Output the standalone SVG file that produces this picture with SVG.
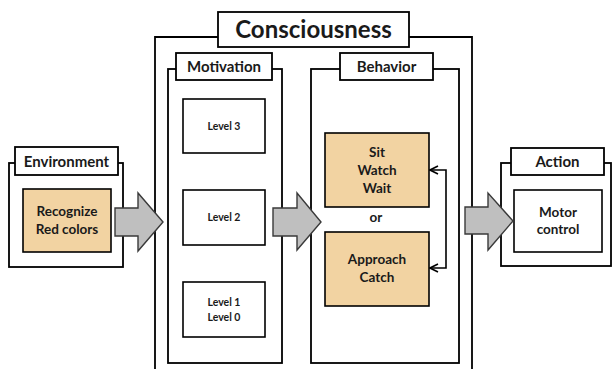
<svg xmlns="http://www.w3.org/2000/svg" width="613" height="369" viewBox="0 0 613 369">
<style>
.panel{fill:#fff;stroke:#000;stroke-width:1.8}
.title{fill:#fff;stroke:#000;stroke-width:1.8}
.box{fill:#fff;stroke:#000;stroke-width:1.6}
.tan{fill:#F2D3A2;stroke:#000;stroke-width:1.6}
.big{fill:#BFBFBF;stroke:#3a3a3a;stroke-width:1.4;stroke-linejoin:miter}
text{font-family:Lato,"Open Sans","Liberation Sans",sans-serif;font-weight:bold;fill:#1a1a1a;text-anchor:middle}
.t22{font-size:24px}
.t15{font-size:15px}
.t13{font-size:13.5px}
.t10{font-size:10.5px}
.fb{fill:none;stroke:#000;stroke-width:1.6}
</style>
<defs>
<marker id="open" viewBox="0 0 10 10" refX="9" refY="5" markerWidth="10" markerHeight="10" markerUnits="userSpaceOnUse" orient="auto-start-reverse">
<path d="M1,1 L9,5 L1,9" fill="none" stroke="#000" stroke-width="1.6"/>
</marker>
</defs>

<g id="consciousness">
<path class="panel" d="M155,380 V37 H472 V380" fill="none"/>
<rect class="title" x="218" y="12" width="191" height="35"/>
<text class="t22" x="313.5" y="38">Consciousness</text>
</g>

<g id="motivation">
<rect class="panel" x="168" y="69" width="114" height="294"/>
<rect class="title" x="176" y="53" width="96" height="27"/>
<text class="t15" x="224" y="72">Motivation</text>
</g>

<g id="level3">
<rect class="box" x="183" y="99" width="82" height="54"/>
<text class="t10" x="224" y="130">Level 3</text>
</g>
<g id="level2">
<rect class="box" x="183" y="190" width="82" height="55"/>
<text class="t10" x="224" y="221">Level 2</text>
</g>
<g id="level10">
<rect class="box" x="183" y="282" width="82" height="55"/>
<text class="t10" x="224" y="305.5">Level 1</text>
<text class="t10" x="224" y="320.5">Level 0</text>
</g>

<g id="behavior">
<rect class="panel" x="311" y="69" width="148" height="294"/>
<rect class="title" x="340" y="53" width="93" height="27"/>
<text class="t15" x="386.5" y="72">Behavior</text>
<text class="t13" x="376" y="221.5">or</text>
</g>

<g id="sit-watch-wait">
<rect class="tan" x="325" y="133" width="104" height="74"/>
<text class="t13" x="377" y="157">Sit</text>
<text class="t13" x="377" y="175">Watch</text>
<text class="t13" x="377" y="193">Wait</text>
</g>

<g id="approach-catch">
<rect class="tan" x="325" y="232" width="104" height="74"/>
<text class="t13" x="377" y="264">Approach</text>
<text class="t13" x="377" y="282">Catch</text>
</g>

<g id="environment">
<rect class="panel" x="9" y="163" width="114" height="104"/>
<rect class="title" x="15" y="147" width="103" height="28"/>
<text class="t15" x="66.5" y="167">Environment</text>
</g>
<g id="recognize">
<rect class="tan" x="23" y="189" width="88" height="63"/>
<text class="t13" x="67" y="216">Recognize</text>
<text class="t13" x="67" y="234">Red colors</text>
</g>

<g id="action">
<rect class="panel" x="501" y="163" width="110" height="103"/>
<rect class="title" x="511" y="148" width="93" height="27"/>
<text class="t15" x="557.5" y="167">Action</text>
</g>
<g id="motor-control">
<rect class="box" x="514" y="190" width="88" height="62"/>
<text class="t13" x="558" y="217">Motor</text>
<text class="t13" x="558" y="234">control</text>
</g>

<g id="connectors">
<polygon class="big" points="115,208 138,208 138,193 163,222 138,251 138,236 115,236"/>
<polygon class="big" points="273,208 297,208 297,193 321,222 297,250 297,236 273,236"/>
<polygon class="big" points="465,207 488,207 488,193 513,221 488,250 488,234 465,234"/>
<polyline class="fb" points="430,170 446,170 446,268 430,268" marker-start="url(#open)" marker-end="url(#open)"/>
</g>
</svg>
